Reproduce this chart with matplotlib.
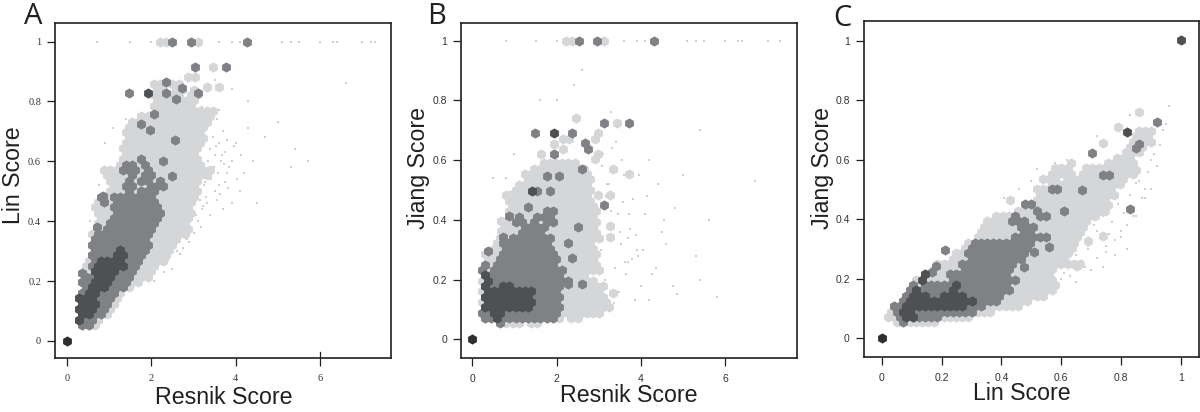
#!/usr/bin/env python3
"""Three hexbin panels comparing Resnik, Lin and Jiang similarity scores."""

import matplotlib
matplotlib.use('Agg')
import matplotlib.pyplot as plt

plt.rcParams['font.family'] = ['Liberation Sans', 'DejaVu Sans']

# Hex lattice: bin widths in score units
resnik_step = 0.147
unit_x_step = 0.0207
row_step = 1 / 56

# Filled runs of bins: (row, first column, last column)
a_light = [(3, 2, 4), (4, 2, 5), (5, 2, 6), (6, 2, 7), (7, 2, 7), (8, 2, 8), (9, 2, 8), (10, 3, 10),
           (11, 2, 11), (12, 3, 13), (13, 3, 13), (14, 3, 14), (15, 3, 15), (16, 4, 16), (17, 4, 16),
           (18, 4, 17), (19, 4, 17), (20, 4, 19), (21, 5, 19), (22, 5, 19), (23, 5, 19), (24, 5, 20),
           (25, 4, 19), (26, 5, 20), (27, 6, 20), (28, 7, 21), (29, 7, 20), (30, 7, 21), (31, 6, 22),
           (32, 6, 23), (33, 8, 21), (34, 9, 21), (35, 9, 20), (36, 9, 21), (37, 9, 21), (38, 10, 22),
           (39, 9, 21), (40, 10, 22), (41, 10, 22), (42, 12, 23), (43, 14, 23), (44, 14, 20),
           (45, 14, 20), (46, 14, 15), (46, 16, 18), (46, 20, 21), (47, 14, 15), (47, 17, 18),
           (47, 20, 20), (48, 14, 15), (48, 17, 18)]
a_medium = [(3, 2, 3), (4, 2, 4), (5, 2, 5), (6, 2, 6), (7, 2, 6), (8, 2, 7), (9, 2, 7), (10, 3, 9),
            (11, 2, 9), (12, 3, 10), (13, 4, 10), (14, 4, 11), (15, 4, 11), (16, 4, 12), (17, 4, 12),
            (18, 4, 13), (19, 4, 12), (20, 5, 13), (21, 6, 13), (22, 7, 14), (23, 7, 14), (24, 8, 15),
            (25, 7, 14), (26, 8, 14), (26, 6, 6), (27, 7, 13), (27, 5, 5), (28, 10, 10), (28, 12, 14),
            (29, 9, 10), (29, 13, 15), (30, 10, 10), (30, 12, 13), (30, 15, 15), (31, 10, 10),
            (31, 12, 13), (32, 9, 11), (32, 13, 13), (33, 9, 10), (33, 12, 12), (34, 12, 12)]
a_dark = [(4, 2, 2), (5, 2, 3), (6, 2, 4), (7, 2, 4), (8, 2, 4), (9, 3, 4), (10, 4, 6), (11, 4, 6),
          (12, 5, 7), (13, 4, 7), (14, 5, 9), (15, 5, 8), (16, 8, 9), (17, 8, 8)]

b_light = [(3, 5, 7), (3, 9, 10), (4, 2, 14), (4, 16, 17), (5, 1, 20), (6, 2, 22), (7, 1, 21), (8, 2, 21),
           (9, 1, 20), (10, 2, 21), (11, 1, 19), (12, 2, 18), (13, 1, 20), (14, 2, 20), (15, 2, 19),
           (16, 2, 20), (17, 3, 19), (18, 4, 19), (19, 4, 20), (20, 5, 20), (21, 5, 19), (22, 5, 20),
           (23, 6, 19), (24, 6, 20), (25, 6, 19), (26, 6, 19), (27, 5, 18), (28, 7, 19), (29, 7, 18),
           (30, 9, 19), (31, 8, 18), (32, 10, 18), (33, 11, 16)]
b_medium = [(3, 4, 4), (4, 2, 13), (5, 1, 13), (6, 2, 14), (7, 2, 13), (8, 2, 14), (9, 2, 13), (10, 2, 14),
            (11, 3, 15), (12, 3, 14), (13, 1, 1), (13, 3, 14), (14, 2, 2), (14, 4, 13), (15, 4, 13),
            (16, 5, 13), (17, 5, 12), (18, 5, 12), (19, 6, 12), (20, 8, 11), (21, 8, 11), (22, 7, 8),
            (22, 10, 10), (22, 12, 13), (23, 7, 7), (23, 10, 12), (24, 12, 13)]
b_dark = [(4, 4, 4), (5, 3, 4), (6, 2, 9), (7, 2, 9), (8, 2, 9), (9, 2, 9), (10, 2, 2), (10, 5, 6),
          (11, 2, 2), (12, 2, 2)]

c_light = [(3, 2, 8), (4, 1, 14), (5, 1, 17), (6, 2, 22), (7, 3, 23), (8, 4, 26), (9, 4, 27), (10, 5, 28),
           (11, 5, 27), (12, 7, 27), (13, 8, 27), (14, 9, 32), (15, 11, 29), (16, 12, 30), (17, 13, 30),
           (18, 14, 31), (19, 15, 31), (20, 16, 32), (21, 16, 32), (22, 17, 33), (23, 18, 34),
           (24, 22, 36), (25, 24, 36), (26, 25, 36), (27, 25, 37), (28, 25, 37), (29, 27, 38),
           (30, 26, 28), (30, 30, 39), (31, 27, 30), (31, 32, 40), (32, 28, 30), (32, 33, 40),
           (33, 30, 30), (33, 36, 40), (34, 38, 40), (35, 39, 41), (36, 40, 42), (37, 40, 43),
           (38, 41, 43), (39, 41, 43)]
c_medium = [(3, 3, 3), (4, 3, 9), (5, 2, 14), (6, 2, 16), (7, 3, 18), (8, 4, 19), (9, 4, 20), (10, 7, 20),
            (10, 5, 5), (11, 11, 21), (12, 11, 20), (13, 13, 20), (14, 13, 21), (15, 14, 22), (16, 14, 23),
            (17, 14, 23), (18, 15, 24), (19, 21, 24), (19, 25, 26), (20, 23, 24), (21, 22, 24),
            (22, 21, 23), (23, 21, 21), (23, 25, 26), (24, 25, 25)]
c_dark = [(4, 4, 5), (5, 3, 4), (6, 4, 13), (7, 4, 14), (8, 5, 7), (8, 10, 13), (9, 5, 5), (9, 11, 11),
          (10, 12, 12), (11, 6, 6), (12, 7, 7)]

# Isolated bins, level 0 light, 1 medium, 2 dark, 3 darkest
a_lone_x = [2.20, 2.35, 3.10, 3.47, 2.87, 3.03, 3.32, 3.61, 2.50, 2.93, 4.27, 3.03, 3.77, 1.47, 2.34, 2.34,
            2.72, 3.10, 2.58, 2.05, 1.75, 1.97, 2.56, 2.27, 2.49, 0.70, 0.35, 0.86, 1.91, 0.0]
a_lone_y = [1.0, 1.0, 1.0, 0.915, 0.882, 0.882, 0.847, 0.847, 1.0, 1.0, 1.0, 0.915, 0.915, 0.828, 0.864, 0.828,
            0.845, 0.828, 0.809, 0.759, 0.726, 0.706, 0.670, 0.602, 0.552, 0.379, 0.226, 0.483, 0.828, 0.0]
a_lone_level = [0, 0, 0, 0, 0, 0, 0, 0, 1, 1, 1, 1, 1, 1, 1, 1, 1, 1, 1, 1, 1, 1, 1, 1, 1, 1, 1, 1, 2, 3]

b_lone_x = [2.22, 2.36, 3.12, 3.42, 2.45, 2.97, 2.90, 2.16, 2.30, 1.93, 2.15, 1.64, 2.98, 2.90, 3.34, 3.71, 2.98,
            3.26, 0.89, 3.26, 3.26, 0.67, 0.67, 3.34, 2.53, 2.96, 4.31, 3.12, 3.71, 1.48, 2.37, 2.67, 2.75, 1.93,
            2.59, 1.78, 2.06, 1.53, 1.84, 1.31, 3.12, 0.87, 2.51, 0.72, 2.28, 0.37, 2.36, 2.59, 2.28, 1.93, 1.41,
            0.0]
b_lone_y = [1.0, 1.0, 1.0, 0.724, 0.742, 0.69, 0.672, 0.672, 0.672, 0.654, 0.637, 0.62, 0.62, 0.603, 0.569, 0.552,
            0.483, 0.483, 0.483, 0.379, 0.344, 0.396, 0.363, 0.154, 1.0, 1.0, 1.0, 0.724, 0.724, 0.69, 0.69, 0.656,
            0.637, 0.62, 0.569, 0.548, 0.548, 0.498, 0.497, 0.444, 0.448, 0.413, 0.375, 0.342, 0.324, 0.294, 0.271,
            0.186, 0.186, 0.69, 0.498, 0.0]
b_lone_level = [0] * 24 + [1] * 25 + [2, 2, 3]

c_lone_x = [0.86, 0.79, 0.739, 0.429, 0.69, 0.739, 0.635, 0.651, 0.85, 0.921, 0.702, 0.831, 0.86, 0.849, 0.738,
            0.759, 0.668, 0.568, 0.587, 0.609, 0.48, 0.5, 0.559, 0.51, 0.475, 0.21, 0.18, 0.168, 0.82, 1.0, 0.0]
c_lone_y = [0.761, 0.71, 0.657, 0.465, 0.328, 0.345, 0.302, 0.243, 0.566, 0.727, 0.624, 0.433, 0.653, 0.638, 0.55,
            0.55, 0.498, 0.5, 0.5, 0.429, 0.45, 0.45, 0.308, 0.291, 0.241, 0.295, 0.244, 0.224, 0.692, 1.003, 0.0]
c_lone_level = [0] * 9 + [1] * 19 + [2, 2, 3]

# Faint single-pair specks
a_speck_x = [0.7, 1.5, 2.0, 3.6, 3.9, 4.1, 5.1, 5.3, 5.5, 6.0, 6.3, 6.4, 7.0, 7.2, 7.3, 3.2, 3.4, 3.55, 3.7, 3.6,
             3.5, 3.75, 3.9, 4.0, 3.4, 3.6, 3.8, 3.55, 3.3, 3.2, 3.1, 3.4, 3.7, 4.1, 4.5, 4.4, 4.7, 5.3, 5.4, 5.7,
             5.0, 4.3, 3.9, 3.5, 2.9, 2.6, 2.4, 2.5, 2.3, 2.05, 6.6, 1.4, 0.9, 1.1, 0.75, 0.55, 3.45, 3.65, 3.85,
             3.35, 3.5, 3.25, 3.3, 3.15, 3.05, 2.95, 3.45, 3.6, 3.75, 3.95, 4.2, 3.38, 3.48, 3.58, 3.68, 3.78, 3.28,
             3.42, 3.52, 3.62, 3.72, 3.22, 3.32, 3.12, 3.18, 3.02, 2.85, 2.75, 2.68, 3.82, 3.92, 4.02, 4.12, 4.3]
a_speck_y = [1.0, 1.0, 1.0, 1.0, 1.0, 1.0, 1.0, 1.0, 1.0, 1.0, 1.0, 1.0, 1.0, 1.0, 1.0, 0.78, 0.72, 0.74, 0.70, 0.66,
             0.62, 0.63, 0.60, 0.66, 0.55, 0.52, 0.56, 0.47, 0.48, 0.44, 0.40, 0.42, 0.44, 0.50, 0.46, 0.60, 0.68,
             0.58, 0.64, 0.60, 0.73, 0.80, 0.84, 0.87, 0.33, 0.30, 0.27, 0.24, 0.23, 0.20, 0.86, 0.74, 0.66, 0.71,
             0.52, 0.40, 0.68, 0.60, 0.58, 0.60, 0.50, 0.52, 0.57, 0.47, 0.42, 0.37, 0.76, 0.77, 0.53, 0.65, 0.56,
             0.64, 0.58, 0.56, 0.62, 0.67, 0.53, 0.54, 0.65, 0.49, 0.59, 0.45, 0.46, 0.50, 0.38, 0.36, 0.34, 0.31,
             0.29, 0.51, 0.46, 0.54, 0.62, 0.71]
b_speck_x = [0.8, 1.5, 2.0, 3.6, 3.9, 4.1, 5.1, 5.3, 5.5, 6.0, 6.3, 6.4, 7.0, 7.3, 3.1, 3.2, 3.3, 3.4, 3.5, 3.6, 3.7,
             3.8, 3.9, 4.0, 4.1, 4.2, 4.4, 4.6, 4.8, 5.0, 5.3, 5.4, 5.6, 5.8, 6.7, 3.05, 3.15, 3.25, 3.35, 3.45, 3.55,
             3.65, 3.75, 3.85, 3.95, 4.05, 4.25, 4.5, 4.85, 2.4, 2.0, 1.6, 1.0, 0.8, 0.5, 2.6, 3.3, 4.2, 5.4, 3.08,
             3.18, 3.28, 3.38, 3.48, 3.58, 3.68, 3.78, 3.22, 3.42, 3.52, 3.62, 3.72, 3.12, 3.02, 3.32, 3.92, 4.15,
             3.88, 4.35, 4.55, 4.75]
b_speck_y = [1.0, 1.0, 1.0, 1.0, 1.0, 1.0, 1.0, 1.0, 1.0, 1.0, 1.0, 1.0, 1.0, 1.0, 0.62, 0.52, 0.43, 0.66, 0.36, 0.55,
             0.26, 0.47, 0.30, 0.18, 0.42, 0.13, 0.52, 0.32, 0.44, 0.55, 0.28, 0.20, 0.40, 0.14, 0.53, 0.30, 0.20, 0.52,
             0.12, 0.42, 0.60, 0.22, 0.37, 0.13, 0.55, 0.30, 0.22, 0.36, 0.15, 0.85, 0.80, 0.80, 0.62, 0.54, 0.54, 0.90,
             0.76, 0.60, 0.70, 0.58, 0.48, 0.38, 0.24, 0.16, 0.46, 0.34, 0.27, 0.11, 0.56, 0.32, 0.26, 0.42, 0.10, 0.14,
             0.64, 0.28, 0.48, 0.35, 0.24, 0.40, 0.18]
c_speck_x = [0.56, 0.6, 0.65, 0.68, 0.72, 0.75, 0.78, 0.8, 0.82, 0.85, 0.88, 0.9, 0.92, 0.93, 0.95, 0.96, 0.69, 0.72,
             0.74, 0.77, 0.79, 0.81, 0.83, 0.86, 0.89, 0.91, 0.94, 0.65, 0.66, 0.7, 0.74, 0.78, 0.82, 0.46, 0.5, 0.52,
             0.58, 0.62, 0.36, 0.41, 0.72, 0.83, 0.71, 0.73, 0.76, 0.8, 0.84, 0.87, 0.67, 0.63, 0.61, 0.69, 0.75, 0.85,
             0.9, 0.88]
c_speck_y = [0.23, 0.2, 0.19, 0.24, 0.27, 0.29, 0.33, 0.36, 0.38, 0.41, 0.47, 0.5, 0.58, 0.65, 0.72, 0.78, 0.31, 0.36,
             0.41, 0.39, 0.45, 0.42, 0.48, 0.53, 0.56, 0.62, 0.7, 0.28, 0.33, 0.23, 0.24, 0.28, 0.3, 0.5, 0.53, 0.57,
             0.59, 0.6, 0.38, 0.47, 0.68, 0.75, 0.38, 0.34, 0.35, 0.34, 0.41, 0.47, 0.26, 0.21, 0.22, 0.3, 0.31, 0.52,
             0.6, 0.5]

# Tick labels and axis text
resnik_ticks = [0, 2, 4, 6]
unit_ticks = [0, 0.2, 0.4, 0.6, 0.8, 1]
unit_tick_labels = ['0', '0.2', '0.4', '0.6', '0.8', '1']

level_colors = ['#d5d6d8', '#808184', '#4f5052', '#2f2f31']
ink = '#231f20'
W, H = 1200, 412


def draw_panel(box, xlim, ylim, step, light, medium, dark, lone_x, lone_y, lone_level, speck_x, speck_y,
               xticks, xticklabels, tick_font):
    left, right, top, bottom = box
    ax = fig.add_axes([left / W, 1 - bottom / H, (right - left) / W, (bottom - top) / H])
    ax.scatter(speck_x, speck_y, s=0.7, marker='s', c='#cfcfcf', linewidths=0)

    for level, runs in enumerate([light, medium, dark]):
        xs, ys = [], []
        for row, first, last in runs:
            for col in range(first, last + 1):
                xs.append((col + 0.5 * (row % 2)) * step)
                ys.append(row * row_step)
        ax.scatter(xs, ys, s=54, marker='h', c=level_colors[level], linewidths=0, zorder=2 + level)

    for level in range(4):
        xs = [x for x, lv in zip(lone_x, lone_level) if lv == level]
        ys = [y for y, lv in zip(lone_y, lone_level) if lv == level]
        ax.scatter(xs, ys, s=54, marker='h', c=level_colors[level], linewidths=0, zorder=2 + level)

    ax.set_xlim(xlim)
    ax.set_ylim(ylim)
    ax.set_xticks(xticks)
    ax.set_xticklabels(xticklabels, **tick_font)
    ax.set_yticks(unit_ticks)
    ax.set_yticklabels(unit_tick_labels, **tick_font)
    ax.tick_params(length=5.5, width=0.9, color=ink, labelcolor='#333333', pad=4.5)
    ax.tick_params(axis='x', pad=6)
    for spine in ax.spines.values():
        spine.set_linewidth(1.2)
        spine.set_color(ink)
    return ax


fig = plt.figure(figsize=(W / 100, H / 100), dpi=100)

serif_ticks = {'fontsize': 7.5, 'family': 'Liberation Serif'}
sans_ticks = {'fontsize': 7.5, 'family': 'Liberation Sans'}

ax_a = draw_panel((55, 390.7, 23.3, 358.3), (-0.284, 7.67), (-0.058, 1.061), resnik_step,
                  a_light, a_medium, a_dark, a_lone_x, a_lone_y, a_lone_level, a_speck_x, a_speck_y,
                  resnik_ticks, resnik_ticks, serif_ticks)
# panel A has its 6 tick poking up into the plot
ax_a.plot([6, 6], [-0.058, -0.038], color=ink, lw=0.9)

draw_panel((461.3, 796.7, 22.7, 357.7), (-0.26, 7.69), (-0.0616, 1.06), resnik_step,
           b_light, b_medium, b_dark, b_lone_x, b_lone_y, b_lone_level, b_speck_x, b_speck_y,
           resnik_ticks, resnik_ticks, sans_ticks)

draw_panel((863.7, 1199, 21.3, 356.7), (-0.06, 1.06), (-0.062, 1.065), unit_x_step,
           c_light, c_medium, c_dark, c_lone_x, c_lone_y, c_lone_level, c_speck_x, c_speck_y,
           unit_ticks, unit_tick_labels, sans_ticks)

# Panel letters and axis titles
for letter, px, py in [('A', 33, 17), ('B', 437, 17), ('C', 842, 18)]:
    fig.text(px / W, 1 - py / H, letter, fontsize=21, ha='center', va='center', color=ink, family='Open Sans')

for label, px, py in [('Resnik Score', 224, 397), ('Resnik Score', 629, 395), ('Lin Score', 1022, 394)]:
    fig.text(px / W, 1 - py / H, label, fontsize=16.7, ha='center', va='center', color=ink)

for label, px, py in [('Lin Score', 14, 175), ('Jiang Score', 419, 168), ('Jiang Score', 823, 168)]:
    fig.text(px / W, 1 - py / H, label, fontsize=16.7, ha='center', va='center', rotation=90, color=ink)

fig.savefig('out.png', dpi=100)
plt.close(fig)
